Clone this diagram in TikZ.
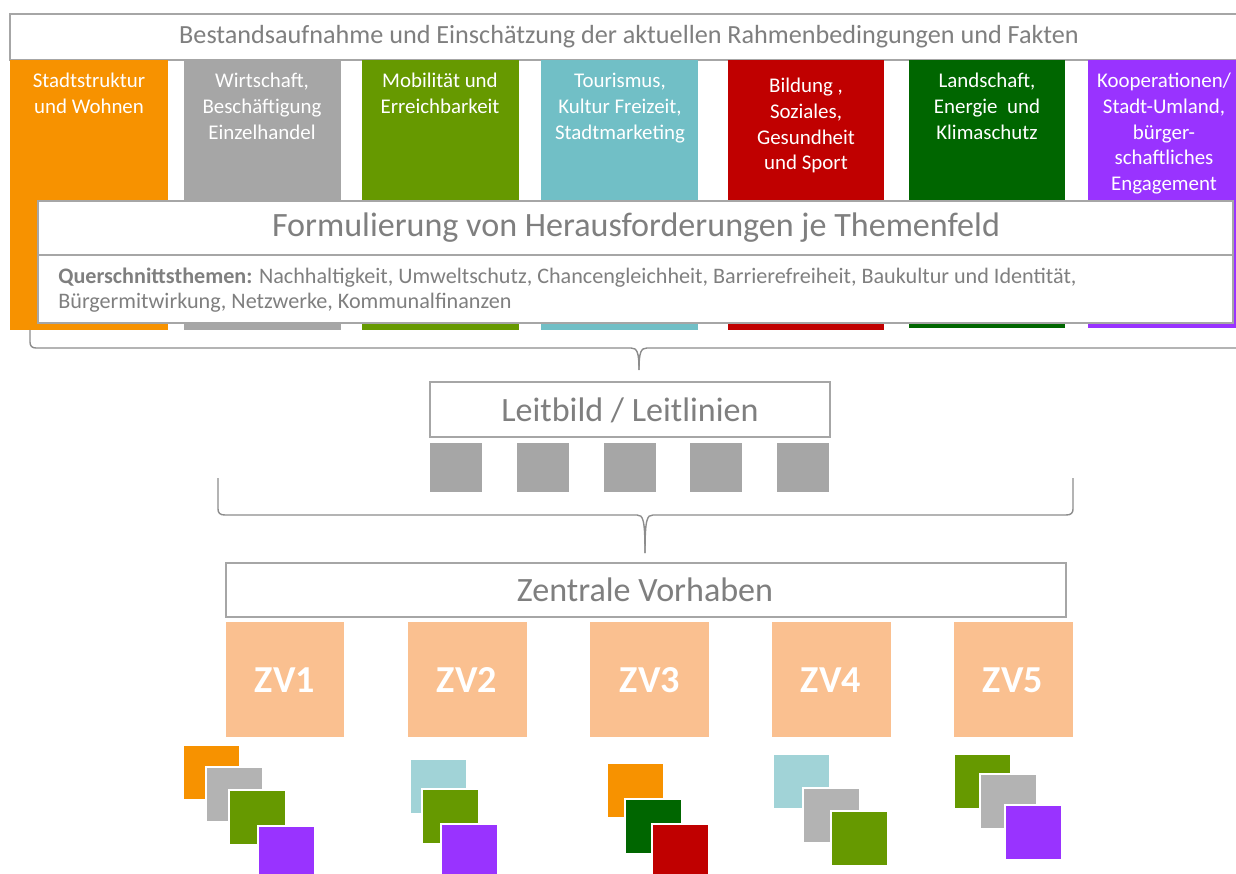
\documentclass[tikz,border=0pt]{standalone}
\usepackage{fontspec}
\setmainfont{Carlito}

\definecolor{txtgrey}{HTML}{7F7F7F}
\definecolor{rulegrey}{HTML}{A6A6A6}
\definecolor{bracegrey}{HTML}{8C8C8C}
\definecolor{colorange}{HTML}{F79200}
\definecolor{colgrey}{HTML}{A6A6A6}
\definecolor{colgreen}{HTML}{669900}
\definecolor{colteal}{HTML}{71BFC6}
\definecolor{colred}{HTML}{C00000}
\definecolor{coldkgreen}{HTML}{006600}
\definecolor{colpurple}{HTML}{9933FF}
\definecolor{zvorange}{HTML}{FAC090}
\definecolor{lightteal}{HTML}{A1D3D7}
\definecolor{lightgrey}{HTML}{B3B3B3}

\tikzset{
  framebox/.style={draw=rulegrey, line width=0.7pt, fill=white},
  coltext/.style={text=white, anchor=north, inner sep=0pt, align=center,
    font=\fontsize{11.9}{14.6}\selectfont},
  headtext/.style={text=txtgrey, font=\fontsize{19.4}{22}\selectfont},
  zvtext/.style={text=white, font=\fontsize{21.7}{24}\selectfont\bfseries},
  minisq/.style={draw=white, line width=0.8pt},
  bracepath/.style={draw=bracegrey, line width=0.8pt}
}

\begin{document}
\begin{tikzpicture}[x=0.02cm, y=-0.02cm]
        \useasboundingbox (0,0) rectangle (1236,874);
        \clip (0,0) rectangle (1236,874);

        % Bestandsaufnahme
        \draw[framebox] (10,14) rectangle (1245,60);
        \node[text=txtgrey, font=\fontsize{14.9}{16}\selectfont] (bestand) at (629,37)
          {Bestandsaufnahme und Einschätzung der aktuellen Rahmenbedingungen und Fakten};

        % Themenfelder
        \fill[colorange] (10,60) rectangle (168,330);
        \node[coltext] (stadt) at (89,73) {Stadtstruktur\\und Wohnen};
        \fill[colgrey] (184,60) rectangle (341,330);
        \node[coltext] (wirtschaft) at (262,73) {Wirtschaft,\\Beschäftigung\\Einzelhandel};
        \fill[colgreen] (362,60) rectangle (519,330);
        \node[coltext] (mobil) at (440,73) {Mobilität und\\Erreichbarkeit};
        \fill[colteal] (541,60) rectangle (698,330);
        \node[coltext] (tourismus) at (620,73) {Tourismus,\\Kultur Freizeit,\\Stadtmarketing};
        \fill[colred] (728,60) rectangle (884,330);
        \node[coltext] (bildung) at (806,78) {Bildung ,\\Soziales,\\Gesundheit\\und Sport};
        \fill[coldkgreen] (909,60) rectangle (1065,328);
        \node[coltext] (landschaft) at (987,73) {Landschaft,\\Energie~ und\\Klimaschutz};
        \fill[colpurple] (1088,60) rectangle (1236,328);
        \node[coltext] (koop) at (1164,73) {Kooperationen/\\Stadt-Umland,\\bürger-\\schaftliches\\Engagement};

        % Herausforderungen
        \draw[framebox] (38,201) rectangle (1233,255);
        \node[headtext] (herausf) at (636,228) {Formulierung von Herausforderungen je Themenfeld};
        \draw[framebox] (38,255) rectangle (1233,323);
        \node[text=txtgrey, anchor=north west, align=left, inner sep=0pt,
          font=\fontsize{12.6}{14.2}\selectfont] (quer) at (58,268)
          {\textbf{Querschnittsthemen:} Nachhaltigkeit, Umweltschutz, Chancengleichheit, Barrierefreiheit, Baukultur und Identität,\\Bürgermitwirkung, Netzwerke, Kommunalfinanzen};

        % Klammer oben
        \draw[bracepath] (30,330) -- (30,342) .. controls (30,346) and (32,348) .. (36,348)
          -- (631,348) .. controls (637,348) and (639,352) .. (639,370);
        \draw[bracepath] (639,370) .. controls (639,352) and (641,348) .. (647,348)
          -- (1242,348) .. controls (1246,348) and (1248,346) .. (1248,342) -- (1248,330);

        % Leitbild
        \draw[framebox] (430,382) rectangle (830,437);
        \node[headtext] (leitbild) at (630,410) {Leitbild / Leitlinien};
        \foreach \x in {430,517,604,690,777}
          \fill[colgrey] (\x,443) rectangle +(52,49);

        % Klammer unten
        \draw[bracepath] (218,478) -- (218,509) .. controls (218,513) and (220,515) .. (225,515)
          -- (637,515) .. controls (643,515) and (645,519) .. (645,553);
        \draw[bracepath] (645,553) .. controls (645,519) and (647,515) .. (653,515)
          -- (1066,515) .. controls (1071,515) and (1073,513) .. (1073,509) -- (1073,478);

        % Zentrale Vorhaben
        \draw[framebox] (226,563) rectangle (1066,617);
        \node[headtext] (zentral) at (645,590) {Zentrale Vorhaben};

        \fill[zvorange] (226,622) rectangle (344,737);
        \node[zvtext] (zv1) at (285,680) {ZV1};
        \fill[zvorange] (408,622) rectangle (527,737);
        \node[zvtext] (zv2) at (467,680) {ZV2};
        \fill[zvorange] (590,622) rectangle (709,737);
        \node[zvtext] (zv3) at (650,680) {ZV3};
        \fill[zvorange] (772,622) rectangle (891,737);
        \node[zvtext] (zv4) at (831,680) {ZV4};
        \fill[zvorange] (954,622) rectangle (1073,737);
        \node[zvtext] (zv5) at (1013,680) {ZV5};

        % Themen je Vorhaben
        \filldraw[minisq, fill=colorange] (183,745) rectangle +(57,55);
        \filldraw[minisq, fill=lightgrey] (206,767) rectangle +(57,55);
        \filldraw[minisq, fill=colgreen] (229,790) rectangle +(57,55);
        \filldraw[minisq, fill=colpurple] (258,826) rectangle +(57,55);

        \filldraw[minisq, fill=lightteal] (410,759) rectangle +(57,55);
        \filldraw[minisq, fill=colgreen] (422,789) rectangle +(57,55);
        \filldraw[minisq, fill=colpurple] (441,824) rectangle +(57,55);

        \filldraw[minisq, fill=colorange] (607,763) rectangle +(57,55);
        \filldraw[minisq, fill=coldkgreen] (625,799) rectangle +(57,55);
        \filldraw[minisq, fill=colred] (652,824) rectangle +(57,55);

        \filldraw[minisq, fill=lightteal] (773,754) rectangle +(57,55);
        \filldraw[minisq, fill=lightgrey] (803,788) rectangle +(57,55);
        \filldraw[minisq, fill=colgreen] (831,811) rectangle +(57,55);

        \filldraw[minisq, fill=colgreen] (954,754) rectangle +(57,55);
        \filldraw[minisq, fill=lightgrey] (980,774) rectangle +(57,55);
        \filldraw[minisq, fill=colpurple] (1005,805) rectangle +(57,55);
    \end{tikzpicture}
\end{document}
